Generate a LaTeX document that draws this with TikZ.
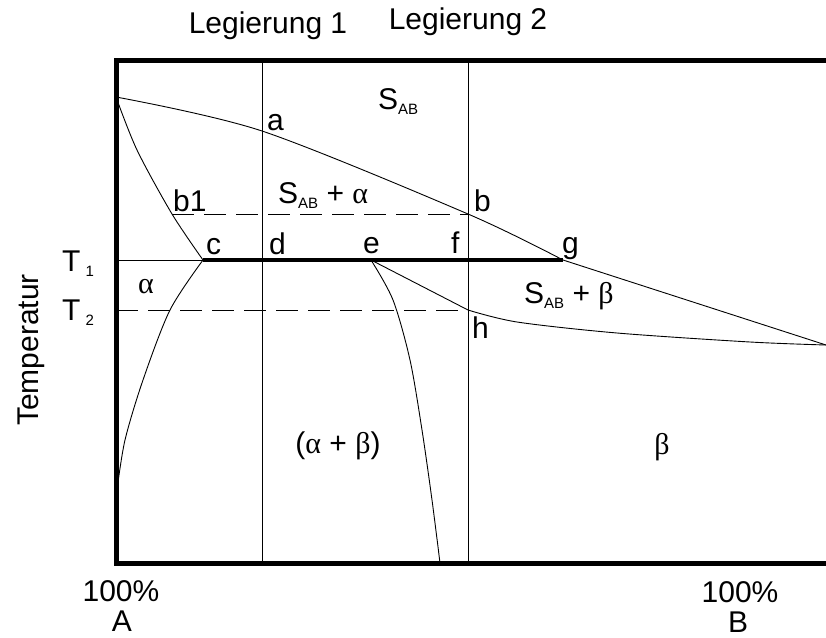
\documentclass[tikz,border=0pt]{standalone}
\usepackage{fontspec}
\setmainfont{Liberation Sans}
\newfontfamily\greekfont{Liberation Serif}
\newcommand{\idx}[1]{\raisebox{-5.3pt}{\fontsize{15}{15}\selectfont #1}}
\newcommand{\gr}[1]{{\greekfont #1}}
\begin{document}
\begin{tikzpicture}[
    x=1pt, y=-1pt,
    frame/.style={line width=5pt, line join=miter},
    thinline/.style={line width=0.9pt},
    tieline/.style={line width=0.9pt, dash pattern=on 22pt off 10pt},
    eutectic/.style={line width=4pt},
    lbl/.style={font=\fontsize{30}{32}\selectfont, anchor=base west, inner sep=0pt},
    mid/.style={lbl, anchor=base}
]
\useasboundingbox (0,0) rectangle (826,637);

% points of the diagram
\coordinate (top) at (116,97);
\coordinate (a) at (262,131);
\coordinate (b) at (468,214);
\coordinate (b1) at (172,214);
\coordinate (c) at (203,260);
\coordinate (t1) at (116,260);
\coordinate (t2) at (116,310);
\coordinate (e) at (371,260);
\coordinate (g) at (563,260);
\coordinate (h) at (468,310);
\coordinate (rend) at (826,345);
\coordinate (l1top) at (262,60);
\coordinate (l1bot) at (262,563);
\coordinate (l2top) at (468,60);
\coordinate (l2bot) at (468,563);

% alloy verticals
\draw[thinline] (l1top) -- (l1bot);
\draw[thinline] (l2top) -- (l2bot);

% liquidus
\draw[thinline] plot[smooth] coordinates {(top) (a) (b) (g)};
\draw[thinline] (g) -- (rend);
\draw[thinline] plot[smooth] coordinates {(h) (517,322) (617,333) (750,342) (rend)};
\draw[thinline] (e) -- (h);

% solidus and solvus
\draw[thinline] plot[smooth] coordinates {(top) (137,150) (b1) (c)};
\draw[thinline] plot[smooth] coordinates {(c) (170,310) (143,380) (125,440) (117,490)};
\draw[thinline] plot[smooth] coordinates {(e) (393,300) (410,360) (422,430) (432,500) (440,563)};

% temperature lines
\draw[thinline] (t1) -- (c);
\draw[tieline] (t2) -- (h);
\draw[tieline] (b1) -- (b);
\draw[eutectic] (c) -- (g);

% frame
\draw[frame] (826,60) -- (116,60) -- (116,563) -- (826,563);

% labels
\node[mid] (leg1) at (268,33) {Legierung 1};
\node[mid] (leg2) at (468,29) {Legierung 2};
\node[lbl] (sab) at (378,109) {S\idx{AB}};
\node[lbl] (la) at (267,130) {a};
\node[lbl] (lb1) at (173,211) {b1};
\node[lbl] (sabalpha) at (278,203) {S\idx{AB} + \gr{α}};
\node[lbl] (lb) at (474,211) {b};
\node[lbl] (lc) at (206,254) {c};
\node[lbl] (ld) at (269,254) {d};
\node[lbl] (le) at (363,253) {e};
\node[lbl] (lf) at (451,253) {f};
\node[lbl] (lg) at (562,253) {g};
\node[lbl] (lt1) at (62,271) {T\,\idx{1}};
\node[lbl] (lt2) at (62,320) {T\,\idx{2}};
\node[lbl] (lalpha) at (138,293) {\gr{α}};
\node[lbl] (sabbeta) at (524,303) {S\idx{AB} + \gr{β}};
\node[lbl] (lh) at (472,338) {h};
\node[mid] (alphabeta) at (338,453) {(\gr{α} + \gr{β})};
\node[mid] (lbeta) at (662,454) {\gr{β}};
\node[mid, rotate=90] (temp) at (38,350) {Temperatur};
\node[mid] (pa) at (121,601) {100\%};
\node[mid] (na) at (122,631) {A};
\node[mid] (pb) at (740,602) {100\%};
\node[mid] (nb) at (738,632) {B};
\end{tikzpicture}
\end{document}
